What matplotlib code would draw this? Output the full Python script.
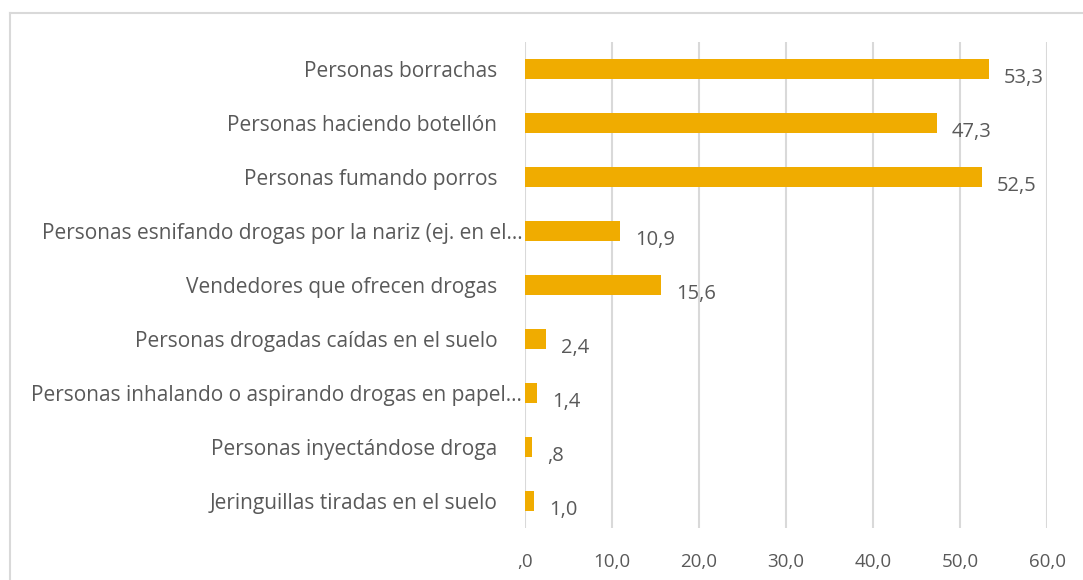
import matplotlib
matplotlib.use("Agg")
import matplotlib.pyplot as plt
from matplotlib.lines import Line2D
from matplotlib.transforms import blended_transform_factory, offset_copy

categories = [
    "Personas borrachas",
    "Personas haciendo botellón",
    "Personas fumando porros",
    "Personas esnifando drogas por la nariz (ej. en el…",
    "Vendedores que ofrecen drogas",
    "Personas drogadas caídas en el suelo",
    "Personas inhalando o aspirando drogas en papel…",
    "Personas inyectándose droga",
    "Jeringuillas tiradas en el suelo",
]
values = [53.3, 47.3, 52.5, 10.9, 15.6, 2.4, 1.4, 0.8, 1.0]
xticks = [0, 10, 20, 30, 40, 50, 60]


def es_fmt(v):
    s = f"{v:.1f}".replace(".", ",")
    if s.startswith("0,"):
        s = s[1:]
    return s


plt.rcParams["font.family"] = ["Open Sans", "DejaVu Sans"]
TXT = "#595959"
BAR = "#F0AC00"
GRID = "#D9D9D9"

fig = plt.figure(figsize=(10.83, 5.8), dpi=100)
ax = fig.add_axes([0.4848, 0.0897, 0.4820, 0.8379])

ypos = list(range(len(categories)))
ax.barh(ypos, values, height=0.36, color=BAR, zorder=3)
for y, v in zip(ypos, values):
    ax.annotate(es_fmt(v), (v, y), xytext=(11, -6.5), textcoords="offset points",
                ha="left", va="center", fontsize=14.5, color=TXT)

# category labels: truncated ones sit close to the axis, the rest further left
trans = blended_transform_factory(ax.transAxes, ax.transData)
for y, lab in zip(ypos, categories):
    dx = -2 if lab.endswith("…") else -20
    ax.text(0, y, lab, transform=offset_copy(trans, fig=fig, x=dx, y=-1.5, units="points"),
            ha="right", va="center", fontsize=15, color=TXT)

ax.set_ylim(len(categories) - 0.5, -0.5)
ax.set_xlim(0, 60)
ax.set_xticks(xticks)
ax.set_xticklabels([es_fmt(t) for t in xticks])
ax.set_yticks([])
ax.tick_params(axis="x", length=0, pad=18, labelsize=13.5, labelcolor=TXT)
ax.grid(axis="x", color=GRID, lw=1.5, zorder=0)
for s in ax.spines.values():
    s.set_visible(False)

# light outer frame (top and left edges visible)
fig.add_artist(Line2D([0.0095, 0.0095], [0.0, 0.977], color=GRID, lw=1.5,
                      transform=fig.transFigure))
fig.add_artist(Line2D([0.0095, 0.999], [0.977, 0.977], color=GRID, lw=1.5,
                      transform=fig.transFigure))

fig.savefig("out.png", dpi=100)
